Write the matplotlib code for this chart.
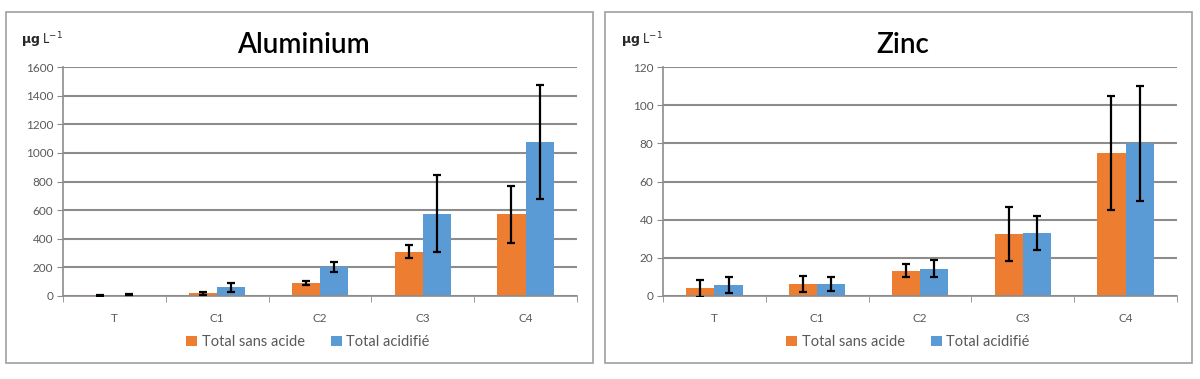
import matplotlib.pyplot as plt
from matplotlib.patches import Rectangle
import numpy as np

plt.rcParams['font.family'] = ['Lato', 'DejaVu Sans']

categories = ["T", "C1", "C2", "C3", "C4"]
series_names = ["Total sans acide", "Total acidifié"]

# Aluminium (µg L-1)
al_sans = [5, 20, 90, 310, 570]
al_sans_err = [3, 10, 15, 45, 200]
al_acid = [10, 60, 200, 575, 1075]
al_acid_err = [5, 30, 35, 270, 400]

# Zinc (µg L-1)
zn_sans = [4, 6.3, 13.2, 32.5, 75]
zn_sans_err = [4.5, 4, 3.5, 14, 30]
zn_acid = [5.7, 6.3, 14.4, 33, 80]
zn_acid_err = [4, 3.6, 4.4, 9, 30]

ORANGE = "#ED7D31"
BLUE = "#5B9BD5"
GRID = "#8c8c8c"
TXT = "#595959"

fig = plt.figure(figsize=(12, 3.79), dpi=100)

# panel frames
for x0 in (6, 605):
    fig.patches.append(Rectangle((x0 / 1200, 1 - 363 / 379), 587 / 1200, 351 / 379,
                                 transform=fig.transFigure, fill=False,
                                 edgecolor="#a0a0a0", linewidth=1.2))


def draw_panel(left, title, sans, sans_err, acid, acid_err, ymax, step):
    ax = fig.add_axes([left / 1200, 1 - 296 / 379, 514 / 1200, 229 / 379])
    x = np.arange(len(categories))
    w = 0.275
    ax.bar(x - w / 2, sans, width=w, color=ORANGE, label=series_names[0], zorder=2)
    ax.bar(x + w / 2, acid, width=w, color=BLUE, label=series_names[1], zorder=2)
    ax.errorbar(x - w / 2, sans, yerr=sans_err, fmt="none", ecolor="black",
                elinewidth=1.6, capsize=3, capthick=1.6, zorder=3)
    ax.errorbar(x + w / 2, acid, yerr=acid_err, fmt="none", ecolor="black",
                elinewidth=1.6, capsize=3, capthick=1.6, zorder=3)

    ax.set_xlim(-0.5, len(categories) - 0.5)
    ax.set_ylim(0, ymax)
    ax.set_yticks(np.arange(0, ymax + 1, step))
    ax.yaxis.grid(True, color=GRID, linewidth=1.5, zorder=0)
    ax.set_axisbelow(True)

    ax.set_xticks(x)
    ax.set_xticklabels(categories)
    ax.set_xticks(np.arange(-0.5, len(categories), 1), minor=True)
    ax.tick_params(axis="x", which="major", length=0, pad=12, labelsize=8.5, labelcolor=TXT)
    ax.tick_params(axis="x", which="minor", length=4, color=GRID, direction="out")
    ax.tick_params(axis="y", length=4, color=GRID, labelsize=8.5, labelcolor=TXT, pad=3)

    for s in ("top", "right"):
        ax.spines[s].set_visible(False)
    for s in ("left", "bottom"):
        ax.spines[s].set_color(GRID)
        ax.spines[s].set_linewidth(1.2)

    cx = (left + 240) / 1200
    fig.text(cx, 1 - 45 / 379, title, ha="center", va="center", fontsize=20,
             fontweight="semibold", color="black")
    fig.text((left - 42) / 1200, 1 - 40 / 379, "$\\mathbf{\\mu g}$ L$^{-1}$", ha="left",
             va="center", fontsize=9, color="#262626")
    ax.legend(loc="center", bbox_to_anchor=((left + 245) / 1200, 1 - 342 / 379),
              bbox_transform=fig.transFigure, ncol=2, frameon=False,
              fontsize=10.5, handlelength=0.75, handleheight=0.75, handletextpad=0.3,
              columnspacing=1.8, labelcolor=TXT)
    return ax


draw_panel(63, "Aluminium", al_sans, al_sans_err, al_acid, al_acid_err, 1600, 200)
draw_panel(663, "Zinc", zn_sans, zn_sans_err, zn_acid, zn_acid_err, 120, 20)

fig.savefig("out.png", dpi=100)
